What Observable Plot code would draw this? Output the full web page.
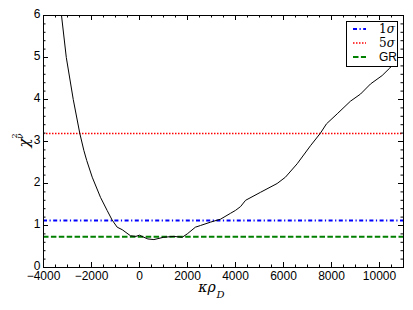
<!DOCTYPE html>
<html>
<head>
<meta charset="utf-8">
<script src="https://cdn.jsdelivr.net/npm/d3@7"></script>
<script src="https://cdn.jsdelivr.net/npm/@observablehq/plot@0.6"></script>
<style>
  body { margin: 0; background: white; }
  #wrap { position: relative; width: 413px; height: 310px; }
  #legend { position: absolute; left: 346px; top: 21px; width: 50px; height: 44px;
            border: 1px solid black; background: white; }
</style>
</head>
<body>
<div id="wrap"></div>
<script>
// Curve: kappa*rho_D vs reduced chi^2
const kappaRho = [-3250, -3050, -2760, -2490, -2320, -2200, -1970, -1625, -1350, -1140, -930, -720, -375, -150, 0, 180, 350, 600, 1010, 1430, 1780, 1990, 2330, 2540, 2960, 3375, 3790, 4000, 4210, 4420, 5040, 5735, 6080, 6570, 7125, 7540, 7790, 8240, 8790, 9210, 9625, 10110, 10430, 10600];
const chi2 = [6.0, 5.0, 4.0, 3.2, 2.79, 2.55, 2.15, 1.67, 1.36, 1.13, 0.96, 0.9, 0.755, 0.74, 0.77, 0.72, 0.68, 0.665, 0.72, 0.74, 0.72, 0.8, 0.96, 1.0, 1.08, 1.15, 1.29, 1.36, 1.45, 1.6, 1.79, 2.0, 2.15, 2.47, 2.9, 3.2, 3.42, 3.66, 3.96, 4.13, 4.37, 4.57, 4.75, 4.85];

// Reference levels
const refNames = ["1σ", "5σ", "GR"];
const refValues = [1.12, 3.19, 0.73];
const refColors = ["#0000ff", "#ff0000", "#008000"];
const refDashes = ["4,2.5,1.2,2.5", "1.5,1.5", "5.5,2.4"];
const refWidths = [2, 1.5, 2];

const xTicks = [-4000, -2000, 0, 2000, 4000, 6000, 8000, 10000];
const yTicks = [0, 1, 2, 3, 4, 5, 6];
const xMinor = d3.range(-4000, 11001, 500);
const yMinor = d3.range(0, 6.01, 0.2);

const data = kappaRho.map((k, i) => ({k, chi: chi2[i]}));
const refs = refNames.map((n, i) => ({name: n, value: refValues[i], color: refColors[i], dash: refDashes[i], width: refWidths[i]}));

const W = 413, H = 310, mL = 43, mR = 10, mT = 15, mB = 43;
const iW = W - mL - mR, iH = H - mT - mB;
const fmt = d => d < 0 ? "\u2212" + (-d) : String(d);

const serif = "'DejaVu Serif', 'Liberation Serif', serif";

const chart = Plot.plot({
  width: W, height: H,
  marginLeft: mL, marginRight: mR, marginTop: mT, marginBottom: mB,
  x: {domain: [-4000, 11000]},
  y: {domain: [0, 6]},
  style: {fontFamily: "'Liberation Sans', Arial, sans-serif", fontSize: "12px", background: "white", color: "black"},
  marks: [
    ...refs.map(r => Plot.ruleY([r.value], {stroke: r.color, strokeWidth: r.width, strokeDasharray: r.dash})),
    Plot.line(data, {x: "k", y: "chi", stroke: "black", strokeWidth: 1, clip: true}),
    // inward ticks on all sides
    Plot.tickX(xMinor, {x: d => d, insetTop: iH - 2.5, stroke: "black"}),
    Plot.tickX(xMinor, {x: d => d, insetBottom: iH - 2.5, stroke: "black"}),
    Plot.tickX(xTicks, {x: d => d, insetTop: iH - 5, stroke: "black"}),
    Plot.tickX(xTicks, {x: d => d, insetBottom: iH - 5, stroke: "black"}),
    Plot.tickY(yMinor, {y: d => d, insetRight: iW - 2.5, stroke: "black"}),
    Plot.tickY(yMinor, {y: d => d, insetLeft: iW - 2.5, stroke: "black"}),
    Plot.tickY(yTicks, {y: d => d, insetRight: iW - 5, stroke: "black"}),
    Plot.tickY(yTicks, {y: d => d, insetLeft: iW - 5, stroke: "black"}),
    Plot.frame({stroke: "black", strokeWidth: 1}),
    Plot.axisX({ticks: xTicks, tickSize: 0, tickPadding: 4, tickFormat: fmt, label: null, fontSize: 12}),
    Plot.axisY({ticks: yTicks, tickSize: 0, tickPadding: 3, tickFormat: d => String(d), label: null, fontSize: 12, dy: -1.5}),
    // y label chi^2_nu
    Plot.text(["χ"], {frameAnchor: "left", text: d => d, rotate: -90, dx: -19, dy: 6, fontSize: 15, fontStyle: "italic", fontFamily: serif}),
    Plot.text(["2"], {frameAnchor: "left", text: d => d, rotate: -90, dx: -29.5, dy: -3, fontSize: 8, fontFamily: serif}),
    Plot.text(["ν"], {frameAnchor: "left", text: d => d, rotate: -90, dx: -23, dy: -2.5, fontSize: 9, fontStyle: "italic", fontFamily: serif}),
    // x label kappa rho_D
    Plot.text(["κρ"], {frameAnchor: "bottom", text: d => d, dx: -16.5, dy: 24.5, fontSize: 14, fontStyle: "italic", fontFamily: serif}),
    Plot.text(["D"], {frameAnchor: "bottom", text: d => d, dx: -3, dy: 30, fontSize: 10, fontStyle: "italic", fontFamily: serif})
  ]
});

const wrap = document.getElementById("wrap");
wrap.appendChild(chart);

// Legend
const legend = document.createElement("div");
legend.id = "legend";
const ns = "http://www.w3.org/2000/svg";
const svg = document.createElementNS(ns, "svg");
svg.setAttribute("width", 50);
svg.setAttribute("height", 44);
refs.forEach((r, i) => {
  const y = 7 + i * 14;
  const line = document.createElementNS(ns, "line");
  line.setAttribute("x1", 6); line.setAttribute("x2", 19);
  line.setAttribute("y1", y); line.setAttribute("y2", y);
  line.setAttribute("stroke", r.color);
  line.setAttribute("stroke-width", r.width);
  line.setAttribute("stroke-dasharray", r.dash);
  svg.appendChild(line);
  const t = document.createElementNS(ns, "text");
  t.setAttribute("x", 32); t.setAttribute("y", y);
  t.setAttribute("dominant-baseline", "central");
  t.setAttribute("font-size", 12);
  t.setAttribute("font-family", r.name === "GR" ? "'Liberation Sans', Arial, sans-serif" : serif);
  if (r.name === "GR") {
    t.textContent = r.name;
  } else {
    const a = document.createElementNS(ns, "tspan"); a.textContent = r.name[0];
    const b = document.createElementNS(ns, "tspan"); b.textContent = r.name.slice(1); b.setAttribute("font-style", "italic");
    t.appendChild(a); t.appendChild(b);
  }
  svg.appendChild(t);
});
legend.appendChild(svg);
wrap.appendChild(legend);
</script>
</body>
</html>
